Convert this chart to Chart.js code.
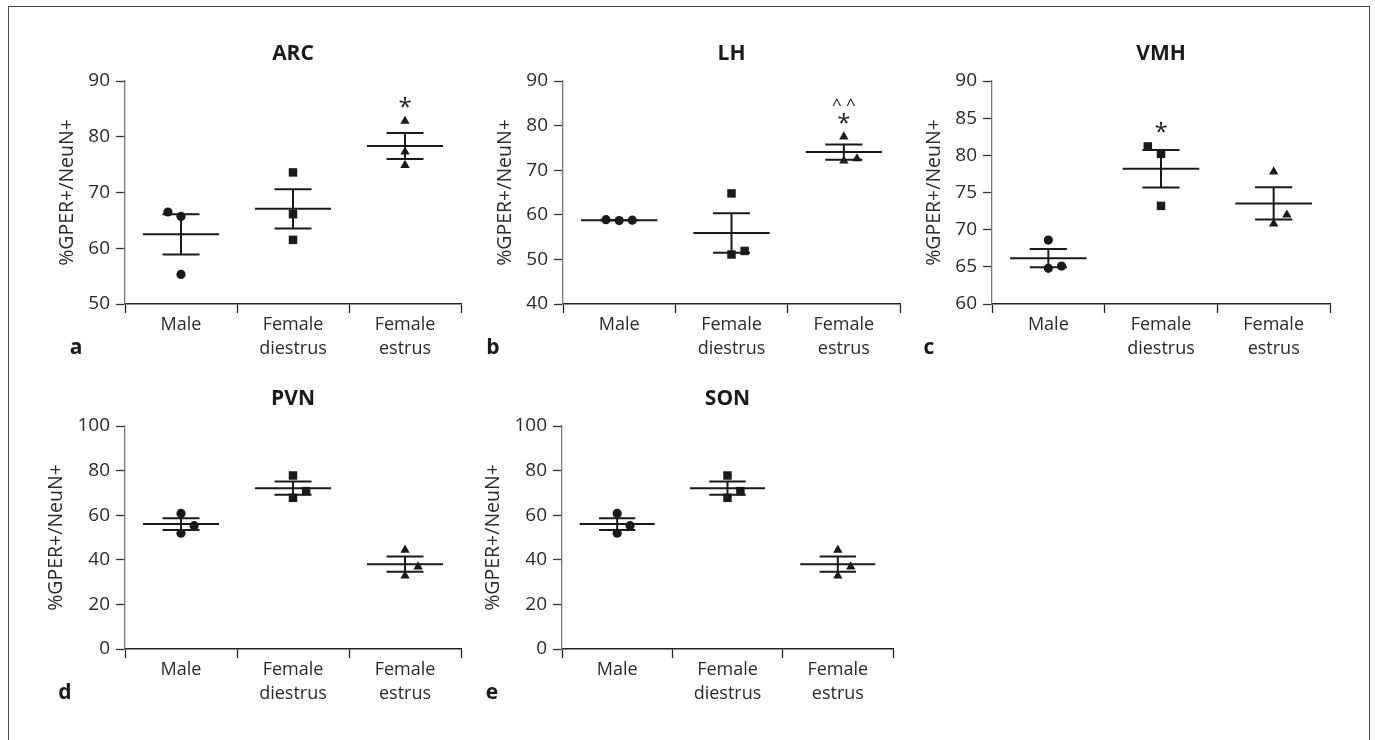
<!DOCTYPE html>
<html>
<head>
<meta charset="utf-8">
<script src="https://cdn.jsdelivr.net/npm/chart.js@4.4.1/dist/chart.umd.min.js"></script>
<style>
html, body { margin: 0; padding: 0; background: #fff; overflow: hidden; }
body { width: 1375px; height: 740px; position: relative; }
canvas { position: absolute; left: 0; top: 0; }
#frame { position: absolute; left: 8px; top: 6px; width: 1360px; height: 780px;
         border: 1.5px solid #4a4a4a; border-bottom: none; }
</style>
</head>
<body>
<div id="frame"></div>
<canvas id="panelA" width="1375" height="740"></canvas>
<canvas id="panelB" width="1375" height="740"></canvas>
<canvas id="panelC" width="1375" height="740"></canvas>
<canvas id="panelD" width="1375" height="740"></canvas>
<canvas id="panelE" width="1375" height="740"></canvas>
<script>
// categories
const groups = ['Male', ['Female', 'diestrus'], ['Female', 'estrus']];
const yTitle = '%GPER+/NeuN+';

// ARC (a)
const arcMale = [66.5, 65.7, 55.3];
const arcDiestrus = [73.6, 66.1, 61.5];
const arcEstrus = [82.8, 77.3, 74.9];
const arcMarks = ['', '', ['*']];

// LH (b)
const lhMale = [58.9, 58.7, 58.8];
const lhDiestrus = [64.8, 51.1, 51.9];
const lhEstrus = [77.5, 72.1, 72.6];
const lhMarks = ['', '', ['^ ^', '*']];

// VMH (c)
const vmhMale = [68.6, 64.8, 65.1];
const vmhDiestrus = [81.2, 80.2, 73.2];
const vmhEstrus = [77.8, 70.8, 72.0];
const vmhMarks = ['', ['*'], ''];

// PVN (d)
const pvnMale = [60.8, 51.9, 55.3];
const pvnDiestrus = [77.8, 67.8, 70.8];
const pvnEstrus = [44.4, 32.8, 36.9];

// SON (e)
const sonMale = [60.8, 51.9, 55.3];
const sonDiestrus = [77.8, 67.8, 70.8];
const sonEstrus = [44.4, 32.8, 36.9];

// y axis ranges: min, max, step
const arcTicks = [50, 90, 10];
const lhTicks = [40, 90, 10];
const vmhTicks = [60, 90, 5];
const pvnTicks = [0, 100, 20];
const sonTicks = [0, 100, 20];

// layout / style
const FONT = "'Open Sans', 'Noto Sans', sans-serif";
const INK = '#1a1a1a';
const JITTER = 0.117;      // horizontal nudge for overlapping dots, in category widths
const MEAN_HALF = 0.34;
const CAP_HALF = 0.165;
const shapes = ['circle', 'rect', 'triangle'];
const radii = [4.6, 6, 5.4];

Chart.defaults.font.family = FONT;

const panelExtras = {
    id: 'panelExtras',
    afterDatasetsDraw(chart, args, opts) {
        const ctx = chart.ctx;
        const area = chart.chartArea;
        const x = chart.scales.x, y = chart.scales.y;
        const band = x.getPixelForValue(1) - x.getPixelForValue(0);
        ctx.save();
        ctx.strokeStyle = INK;
        ctx.lineWidth = 2;
        opts.series.forEach((vals, g) => {
            const n = vals.length;
            const mean = vals.reduce((a, b) => a + b, 0) / n;
            const sd = Math.sqrt(vals.reduce((a, b) => a + (b - mean) * (b - mean), 0) / (n - 1));
            const sem = sd / Math.sqrt(n);
            const cx = x.getPixelForValue(g);
            const ym = y.getPixelForValue(mean);
            const yh = y.getPixelForValue(mean + sem);
            const yl = y.getPixelForValue(mean - sem);
            ctx.beginPath();
            ctx.moveTo(cx - band * MEAN_HALF, ym); ctx.lineTo(cx + band * MEAN_HALF, ym);
            ctx.moveTo(cx - band * CAP_HALF, yh); ctx.lineTo(cx + band * CAP_HALF, yh);
            ctx.moveTo(cx - band * CAP_HALF, yl); ctx.lineTo(cx + band * CAP_HALF, yl);
            ctx.moveTo(cx, yh); ctx.lineTo(cx, yl);
            ctx.stroke();

            // significance marks above the highest dot
            const marks = opts.marks ? opts.marks[g] : '';
            if (marks && marks.length) {
                const top = y.getPixelForValue(Math.max(...vals));
                ctx.fillStyle = INK;
                ctx.textAlign = 'center';
                ctx.textBaseline = 'alphabetic';
                marks.slice().reverse().forEach((m, k) => {
                    const big = m === '*';
                    ctx.font = (big ? '24px ' : '17px ') + FONT;
                    ctx.fillText(m, cx, top - 6 - k * 19 + (big ? 0 : -2));
                });
            }
        });

        // panel title
        ctx.fillStyle = INK;
        ctx.font = 'bold 21px ' + FONT;
        ctx.textAlign = 'center';
        ctx.textBaseline = 'middle';
        ctx.fillText(opts.title, (area.left + area.right) / 2, area.top - 27);

        // panel letter
        ctx.font = 'bold 21px ' + FONT;
        ctx.textBaseline = 'alphabetic';
        ctx.fillText(opts.letter, opts.letterX, area.bottom + 50);
        ctx.restore();
    }
};

function makePanel(id, cfg) {
    const datasets = cfg.series.map((vals, g) => ({
        data: vals.map((v, i) => ({ x: g + cfg.jitter[g][i] * JITTER, y: v })),
        pointStyle: shapes[g],
        pointRadius: radii[g],
        pointHoverRadius: radii[g],
        backgroundColor: INK,
        borderColor: INK,
        borderWidth: 0
    }));
    const chart = new Chart(document.getElementById(id), {
        type: 'scatter',
        data: { datasets: datasets },
        options: {
            responsive: false,
            animation: false,
            events: [],
            layout: { padding: { left: 0, top: cfg.box.top, right: 0, bottom: 0 } },
            plugins: {
                legend: { display: false },
                tooltip: { enabled: false },
                panelExtras: {
                    series: cfg.series, marks: cfg.marks, title: cfg.title,
                    letter: cfg.letter, letterX: cfg.letterX
                }
            },
            scales: {
                x: {
                    type: 'linear', min: -0.5, max: 2.5,
                    afterBuildTicks: s => {
                        s.ticks = [-0.5, 0, 0.5, 1, 1.5, 2, 2.5].map(v => ({ value: v }));
                    },
                    ticks: {
                        autoSkip: false, maxRotation: 0, padding: 0,
                        color: '#2a2a2a',
                        font: { size: 18, lineHeight: 1.33 },
                        callback: v => Number.isInteger(v) ? groups[v] : ''
                    },
                    grid: {
                        drawOnChartArea: false, tickLength: 9, tickWidth: 1.3,
                        tickColor: c => (c.tick && Number.isInteger(c.tick.value)) ? 'rgba(0,0,0,0)' : '#222'
                    },
                    border: { color: '#222', width: 1.5 }
                },
                y: {
                    min: cfg.yTicks[0], max: cfg.yTicks[1],
                    ticks: { stepSize: cfg.yTicks[2], padding: 6, color: '#2a2a2a', font: { size: 19 } },
                    grid: { drawOnChartArea: false, tickLength: 9, tickWidth: 1.3, tickColor: '#333' },
                    border: { color: '#777', width: 1.3 },
                    title: {
                        display: true, text: yTitle, color: '#2a2a2a',
                        font: { size: 19.5 }, padding: { top: 4, bottom: 3 }
                    }
                }
            }
        },
        plugins: [panelExtras]
    });
    // second pass: place the plot area where the figure has it
    const yW = chart.scales.y.width, xH = chart.scales.x.height;
    chart.options.layout.padding = {
        left: cfg.box.left - yW,
        top: cfg.box.top,
        right: 1375 - cfg.box.right,
        bottom: 740 - cfg.box.bottom - xH
    };
    chart.update();
    return chart;
}

makePanel('panelA', {
    title: 'ARC', letter: 'a', letterX: 76,
    box: { left: 125, right: 461, top: 81, bottom: 304 },
    series: [arcMale, arcDiestrus, arcEstrus], marks: arcMarks, yTicks: arcTicks,
    jitter: [[-1, 0, 0], [0, 0, 0], [0, 0, 0]]
});
makePanel('panelB', {
    title: 'LH', letter: 'b', letterX: 493,
    box: { left: 563, right: 900, top: 81, bottom: 304 },
    series: [lhMale, lhDiestrus, lhEstrus], marks: lhMarks, yTicks: lhTicks,
    jitter: [[-1, 0, 1], [0, 0, 1], [0, 0, 1]]
});
makePanel('panelC', {
    title: 'VMH', letter: 'c', letterX: 929,
    box: { left: 992, right: 1330, top: 81, bottom: 304 },
    series: [vmhMale, vmhDiestrus, vmhEstrus], marks: vmhMarks, yTicks: vmhTicks,
    jitter: [[0, 0, 1], [-1, 0, 0], [0, 0, 1]]
});
makePanel('panelD', {
    title: 'PVN', letter: 'd', letterX: 65,
    box: { left: 125, right: 461, top: 426, bottom: 649 },
    series: [pvnMale, pvnDiestrus, pvnEstrus], marks: null, yTicks: pvnTicks,
    jitter: [[0, 0, 1], [0, 0, 1], [0, 0, 1]]
});
makePanel('panelE', {
    title: 'SON', letter: 'e', letterX: 492,
    box: { left: 562, right: 893, top: 426, bottom: 649 },
    series: [sonMale, sonDiestrus, sonEstrus], marks: null, yTicks: sonTicks,
    jitter: [[0, 0, 1], [0, 0, 1], [0, 0, 1]]
});
</script>
</body>
</html>
